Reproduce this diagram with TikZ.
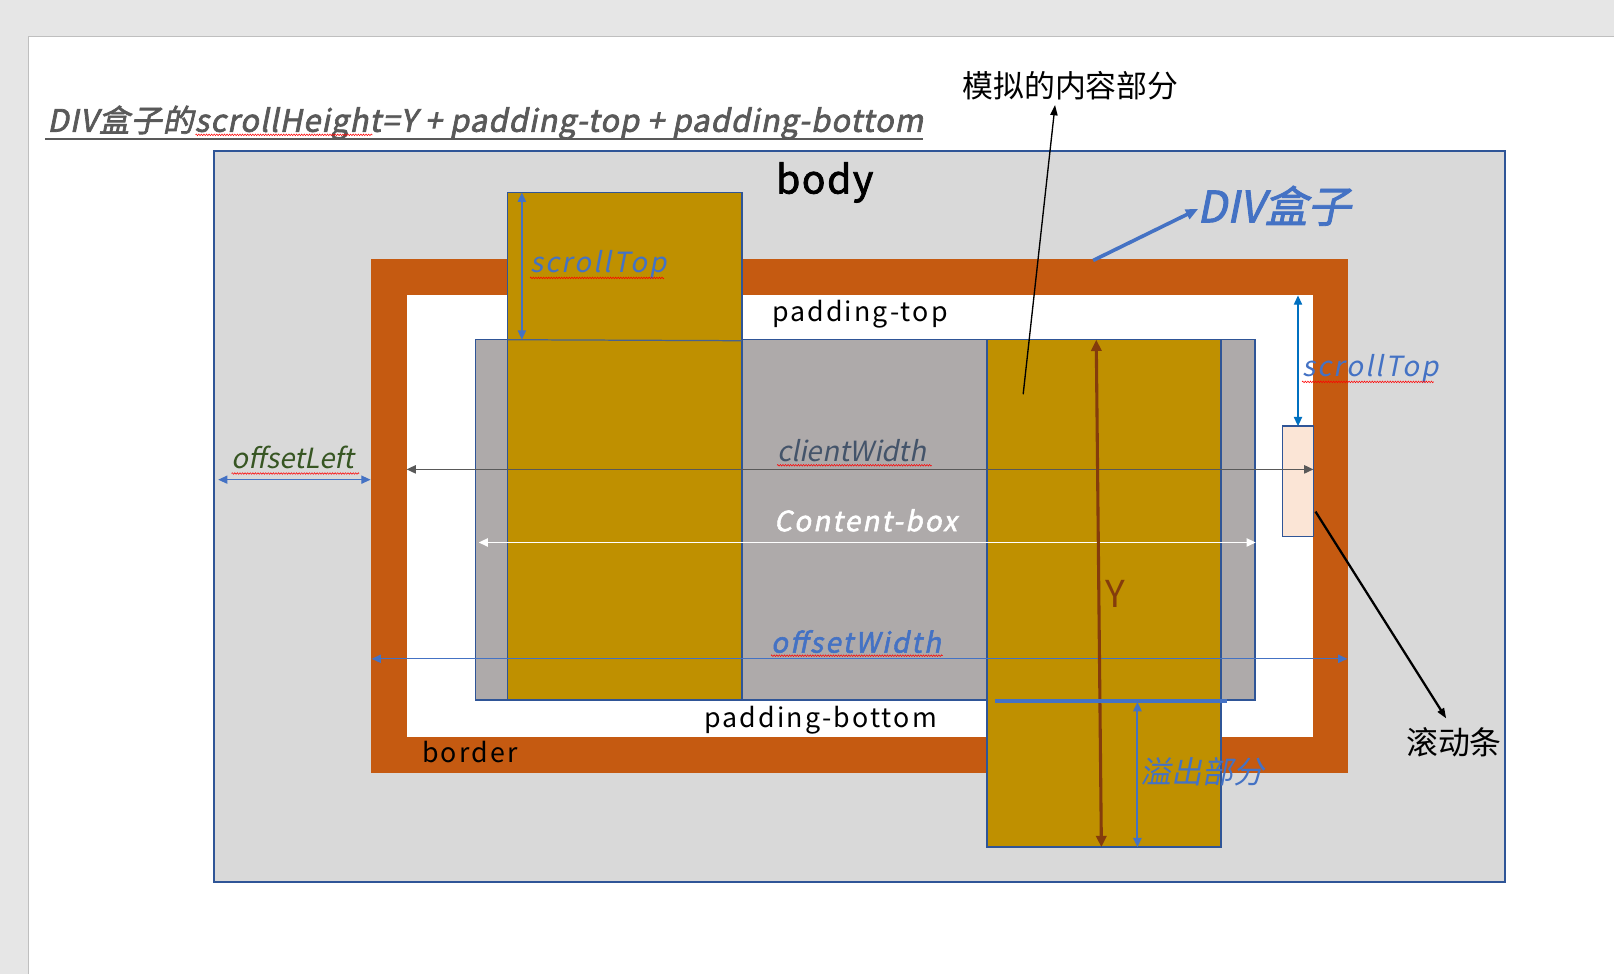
\documentclass[tikz,border=0pt]{standalone}
\usepackage{fontspec}
\setmainfont{Noto Sans CJK SC}
\newfontfamily\cjk{Noto Sans CJK SC}
\newfontfamily\cjkit[FakeSlant=0.2]{Noto Sans CJK SC}
\newfontfamily\cjkbf[FakeBold=2]{Noto Sans CJK SC}
\newfontfamily\cjkbi[FakeSlant=0.2,FakeBold=2]{Noto Sans CJK SC}
\newfontfamily\spr[LetterSpace=8]{Noto Sans CJK SC}
\newfontfamily\spit[LetterSpace=8,FakeSlant=0.2]{Noto Sans CJK SC}
\newfontfamily\spbi[LetterSpace=8,FakeSlant=0.2,FakeBold=2]{Noto Sans CJK SC}
\newfontfamily\ttlbi[LetterSpace=3.6,FakeSlant=0.2,FakeBold=2.2]{Noto Sans CJK SC}
\newfontfamily\spbf[LetterSpace=4,FakeBold=2]{Noto Sans CJK SC}
\usetikzlibrary{arrows.meta,decorations.pathmorphing}
\definecolor{bodygray}{HTML}{D9D9D9}
\definecolor{edgeblue}{HTML}{2F5597}
\definecolor{rust}{HTML}{C55A11}
\definecolor{gold}{HTML}{BF9000}
\definecolor{boxgray}{HTML}{AEAAAA}
\definecolor{accent}{HTML}{4472C4}
\definecolor{brownish}{HTML}{843C0C}
\definecolor{scrollpink}{HTML}{FBE5D6}
\definecolor{titlegray}{HTML}{595959}
\definecolor{slate}{HTML}{44546A}
\definecolor{darkgreen}{HTML}{375623}
\definecolor{mblue}{HTML}{0070C0}
\definecolor{docgray}{HTML}{E6E6E6}
\tikzset{
  lbl/.style={anchor=base west, inner sep=0pt, outer sep=0pt},
  wavy/.style={draw=red, line width=0.5pt, decorate, decoration={zigzag, segment length=2.5pt, amplitude=0.8pt}},
  dimline/.style={line width=1.3pt, {Triangle[length=9pt,width=8pt]}-{Triangle[length=9pt,width=8pt]}},
  boxedge/.style={draw=edgeblue, line width=1.5pt},
  callout/.style={line width=1.5pt, black, -{Triangle[length=10pt,width=7pt]}}
}
\begin{document}
\begin{tikzpicture}[x=1pt,y=-1pt]
\useasboundingbox (0,0) rectangle (1568,946);
% document background
\fill[docgray] (0,0) rectangle (1568,946);
\fill[white] (28,35) rectangle (1568,946);
\draw[gray!50, line width=0.8pt] (28,946) -- (28,35) -- (1568,35);

% title
\node[lbl, text=titlegray] (title) at (46,128) {\fontsize{30}{30}\ttlbi DIV盒子的scrollHeight=Y + padding-top + padding-bottom};
\draw[titlegray, line width=2.2pt] (44,135) -- (897,135);
\draw[wavy] (190,131) -- (362,131);

% body
\fill[bodygray] (208,147) rectangle (1462,857);
\draw[edgeblue, line width=1.8pt] (208,147) rectangle (1462,857);
\node[lbl] (bodylbl) at (754,188) {\fontsize{38}{38}\spbf body};

% div border + padding
\fill[rust] (360,252) rectangle (1310,751);
\fill[white] (395,287) rectangle (1276,716);

% content box
\fill[boxgray] (462,330) rectangle (1219,680);
\draw[boxedge] (462,330) rectangle (1219,680);

% left simulated content (scrolled up)
\fill[gold] (493,187) rectangle (721,680);
\draw[boxedge] (493,187) rectangle (721,680);
\draw[edgeblue!70!gray, line width=1.2pt] (493,330) -- (721,331);

% right simulated content (overflow)
\fill[gold] (959,330) rectangle (1186,823);
\draw[boxedge] (959,330) rectangle (1186,823);

% scrollbar
\fill[scrollpink] (1246,414) rectangle (1276,521);
\draw[boxedge] (1246,414) rectangle (1276,521);

% coordinates
\coordinate (stA) at (507,187);
\coordinate (stB) at (507,330);
\coordinate (st2A) at (1261,287);
\coordinate (st2B) at (1261,414);
\coordinate (olA) at (212,466);
\coordinate (olB) at (360,466);
\coordinate (cwA) at (395,456);
\coordinate (cwB) at (1276,456);
\coordinate (cbA) at (465,527);
\coordinate (cbB) at (1220,527);
\coordinate (owA) at (361,640);
\coordinate (owB) at (1309,640);
\coordinate (yA) at (1065,330);
\coordinate (yB) at (1070,823);
\coordinate (ofA) at (1105,682);
\coordinate (ofB) at (1105,823);
\coordinate (ovL) at (967,681);
\coordinate (ovR) at (1192,681);

% dimension arrows
\draw[dimline, accent] (stA) -- (stB);
\draw[dimline, mblue] (st2A) -- (st2B);
\draw[dimline, accent, line width=1.1pt] (olA) -- (olB);
\draw[dimline, titlegray, line width=1.6pt] (cwA) -- (cwB);
\draw[dimline, white, line width=1.6pt] (cbA) -- (cbB);
\draw[dimline, accent, line width=1.3pt] (owA) -- (owB);
\draw[dimline, brownish, line width=3pt, {Triangle[length=11pt,width=10pt]}-{Triangle[length=11pt,width=10pt]}] (yA) -- (yB);
\draw[accent, line width=4pt] (ovL) -- (ovR);
\draw[dimline, accent, line width=2pt] (ofA) -- (ofB);

% labels
\node[lbl, text=accent] (stlbl) at (515,265) {\fontsize{27}{27}\spit scrollTop};
\draw[wavy] (515,270) -- (645,270);
\node[lbl] (ptlbl) at (750,312) {\fontsize{26}{26}\spr padding-top};
\node[lbl, text=accent] (st2lbl) at (1265,366) {\fontsize{27}{27}\spit scrollTop};
\draw[wavy] (1265,371) -- (1393,371);
\node[lbl, text=darkgreen] (ollbl) at (225,455) {\fontsize{27}{27}\cjkit offsetLeft};
\draw[wavy] (225,460) -- (349,460);
\node[lbl, text=slate] (cwlbl) at (755,448) {\fontsize{27}{27}\cjkit clientWidth};
\draw[wavy] (755,452) -- (905,452);
\node[lbl, text=white] (cblbl) at (752,516) {\fontsize{27}{27}\spbi Content-box};
\node[lbl, text=brownish] (ylbl) at (1074,590) {\fontsize{36}{36}\cjk Y};
\node[lbl, text=accent] (owlbl) at (749,634) {\fontsize{27}{27}\spbi offsetWidth};
\draw[wavy] (749,637) -- (916,637);
\node[lbl] (pblbl) at (684,707) {\fontsize{26}{26}\spr padding-bottom};
\node[lbl] (bdlbl) at (410,741) {\fontsize{26}{26}\spr border};
\node[lbl, text=accent] (oflbl) at (1108,761) {\fontsize{30}{30}\cjkit 溢出部分};

% callouts
\node[lbl] (simlbl) at (935,95) {\fontsize{30}{30}\cjk 模拟的内容部分};
\node[lbl] (sblbl) at (1366,733) {\fontsize{31}{31}\cjk 滚动条};
\node[lbl, text=accent] (divlbl) at (1163,216) {\fontsize{42}{42}\cjkbi DIV盒子};
\coordinate (simtail) at (994,383);
\coordinate (simtip) at (1025,102);
\coordinate (sbtail) at (1278,497);
\coordinate (sbtip) at (1405,698);
\coordinate (divtail) at (1062,253);
\coordinate (divtip) at (1164,203);
\draw[callout, line width=1.3pt] (simtail) -- (simtip);
\draw[callout, line width=2.2pt] (sbtail) -- (sbtip);
\draw[accent, line width=3.5pt, -{Triangle[length=12pt,width=10pt]}] (divtail) -- (divtip);
\end{tikzpicture}
\end{document}
